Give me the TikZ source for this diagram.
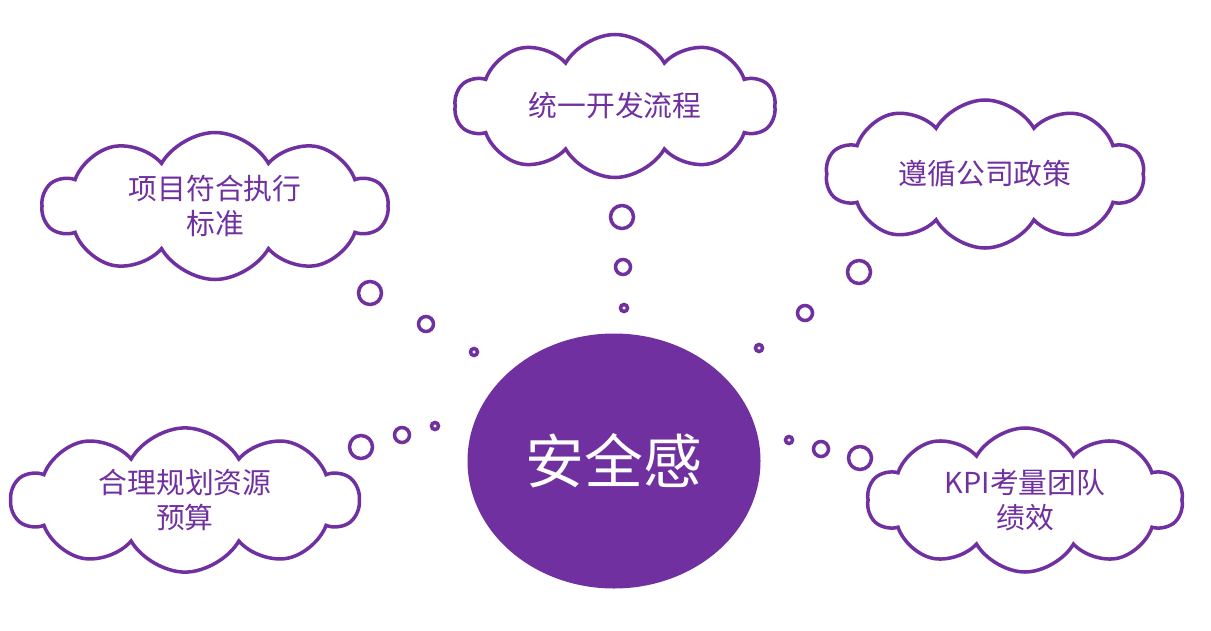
\documentclass[tikz,border=0pt]{standalone}
\usepackage{fontspec}
\usetikzlibrary{shapes.geometric,shapes.symbols}
\newfontfamily\cjk{Noto Sans CJK SC}
\definecolor{thinkpurple}{RGB}{112,48,160}

\begin{document}
\begin{tikzpicture}[
    idea/.style={cloud, cloud puffs=10, cloud puff arc=120, cloud ignores aspect,
      draw=thinkpurple, line width=2pt, fill=white, text=thinkpurple,
      align=center, font=\cjk\fontsize{16.4}{19.5}\selectfont},
    bubble/.style={circle, draw=thinkpurple, line width=2pt, inner sep=0pt},
    big/.style={minimum size=0.46cm},
    mid/.style={minimum size=0.3cm},
    small/.style={minimum size=0.14cm}]
  \useasboundingbox (0,0) rectangle (24.22,12.6);

  % centre
  \node[ellipse, fill=thinkpurple, minimum width=5.86cm, minimum height=5.1cm,
    text=white, font=\cjk\fontsize{33.5}{40}\selectfont] (safe) at (12.28,3.38) {安全感};

  % clouds
  \node[idea, minimum width=6.4cm, minimum height=2.86cm] (flow) at (12.3,10.48) {统一开发流程};
  \node[idea, minimum width=6.9cm, minimum height=2.94cm] (norm) at (4.3,8.48) {项目符合执行\\标准};
  \node[idea, minimum width=6.36cm, minimum height=2.96cm] (policy) at (19.7,9.12) {遵循公司政策};
  \node[idea, minimum width=6.94cm, minimum height=2.88cm] (budget) at (3.7,2.6) {合理规划资源\\预算};
  \node[idea, minimum width=6.3cm, minimum height=2.88cm] (kpi) at (20.5,2.6) {KPI考量团队\\绩效};

  % thought bubbles
  \node[bubble, big] (flowA) at (12.44,8.26) {};
  \node[bubble, mid] (flowB) at (12.46,7.26) {};
  \node[bubble, small] (flowC) at (12.48,6.44) {};

  \node[bubble, big] (normA) at (7.4,6.74) {};
  \node[bubble, mid] (normB) at (8.52,6.12) {};
  \node[bubble, small] (normC) at (9.48,5.56) {};

  \node[bubble, big] (policyA) at (17.18,7.16) {};
  \node[bubble, mid] (policyB) at (16.1,6.34) {};
  \node[bubble, small] (policyC) at (15.18,5.64) {};

  \node[bubble, big] (budgetA) at (7.22,3.66) {};
  \node[bubble, mid] (budgetB) at (8.04,3.9) {};
  \node[bubble, small] (budgetC) at (8.7,4.08) {};

  \node[bubble, big] (kpiA) at (17.2,3.44) {};
  \node[bubble, mid] (kpiB) at (16.42,3.62) {};
  \node[bubble, small] (kpiC) at (15.78,3.8) {};
\end{tikzpicture}
\end{document}
